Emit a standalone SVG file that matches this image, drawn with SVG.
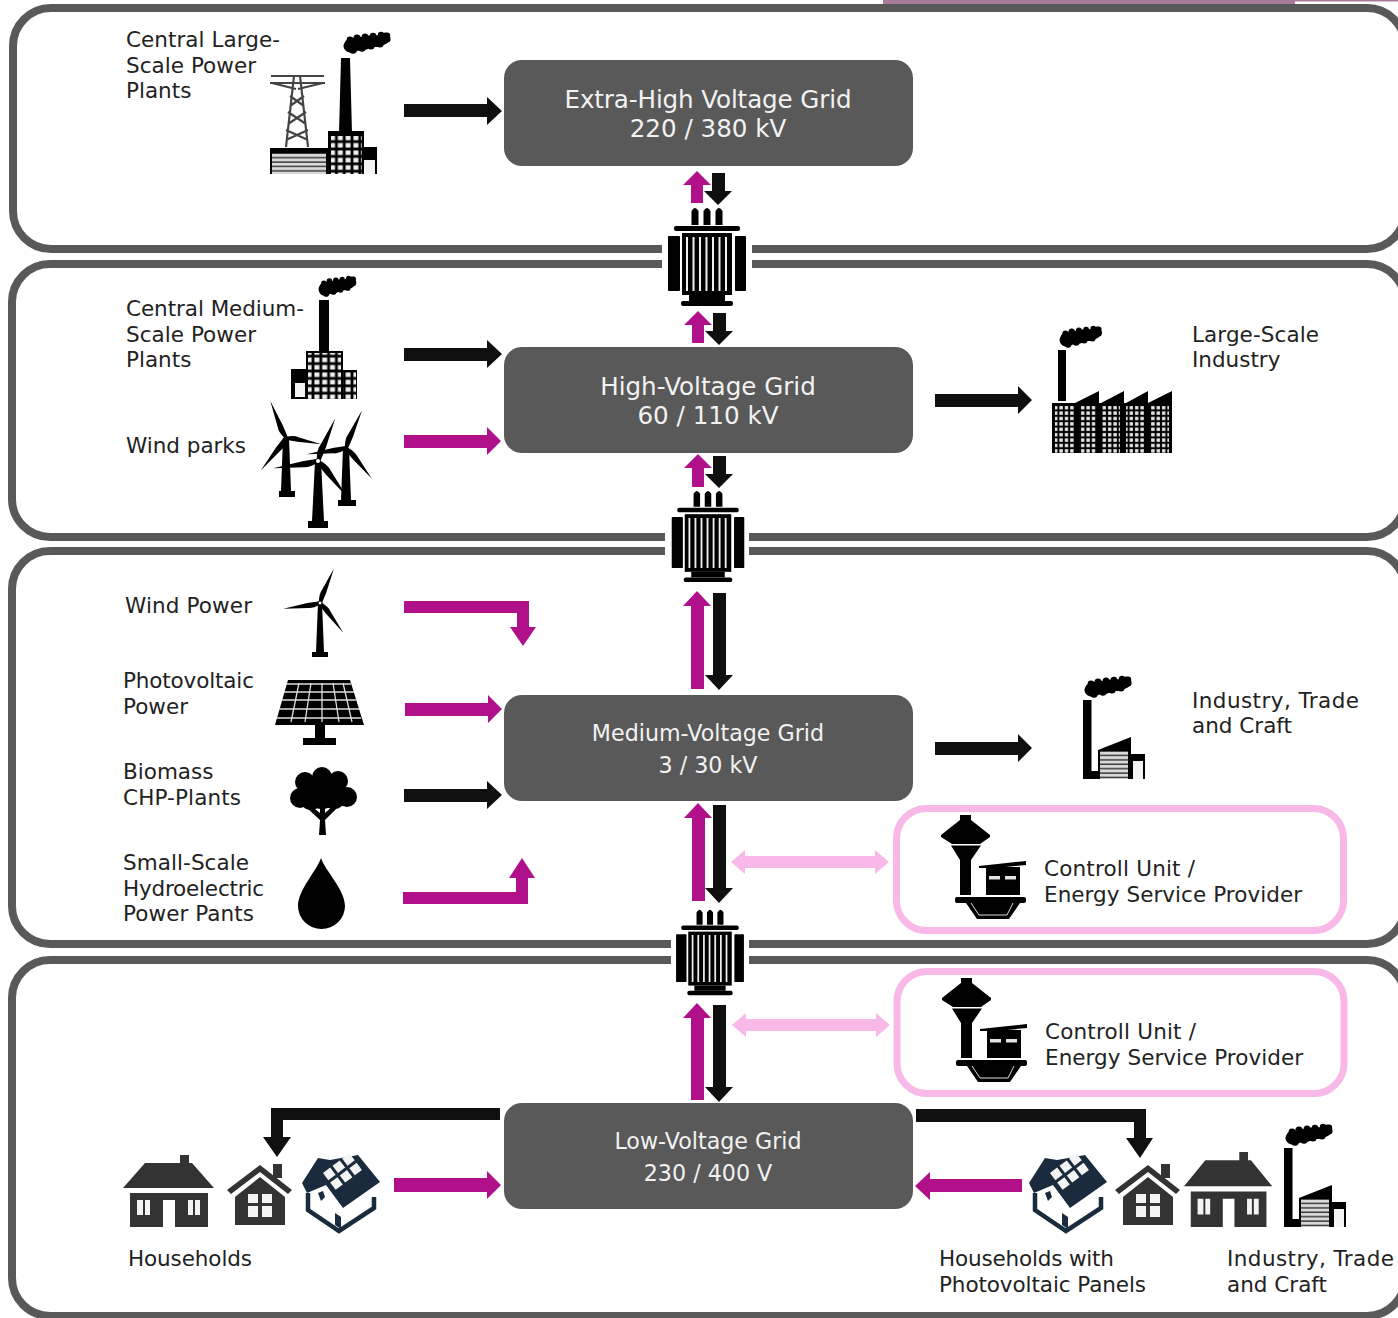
<svg xmlns="http://www.w3.org/2000/svg" width="1398" height="1318" viewBox="0 0 1398 1318">
<style>
text{font-family:"DejaVu Sans","Liberation Sans",sans-serif}
.lbl{font-size:21.5px;fill:#222}
.grid{font-size:24.6px;fill:#f2f2f2;text-anchor:middle}
.grid2{font-size:22.2px;fill:#f2f2f2;text-anchor:middle}
.box{fill:#595959}
.panel{fill:#fff;stroke:#595959;stroke-width:8}
.pink{fill:#fff;stroke:#f9b9e8;stroke-width:7}
.k{fill:#0f0f0f}.m{fill:#b0108a}.p{fill:#f9b9e8}
.b{fill:#000}.w{fill:#f4f4f4}.d{fill:#333}.n{fill:#1a2b3e}
</style>
<defs>
<pattern id="win" width="5.4" height="5.4" patternUnits="userSpaceOnUse"><rect width="5.4" height="5.4" fill="#000"/><rect x="1" y="1" width="3.4" height="3.4" fill="#e4e4e4"/></pattern>
<pattern id="win2" x="1" y="1" width="7.8" height="7.4" patternUnits="userSpaceOnUse"><rect width="7.8" height="7.4" fill="#000"/><rect x="1.4" y="1.4" width="5" height="4.6" fill="#eee"/></pattern>
<pattern id="stripe" width="4" height="4.4" patternUnits="userSpaceOnUse"><rect width="4" height="4.4" fill="#d8d8d8"/><rect y="3" width="4" height="1.4" fill="#333"/></pattern>
<g id="smoke" fill="#000"><path d="M0,12 C1,5 7,6 10,5 C14,2 19,6 23,3 C28,1 32,4 36,1 C41,-1 45,-1 46,1 C47,7 44,11 39,12 C35,15 30,13 26,15 C21,18 16,16 11,19 C5,21 -1,18 0,12Z"/><circle cx="6" cy="7" r="3.4"/><circle cx="13" cy="5" r="3.6"/><circle cx="21" cy="4" r="3.5"/><circle cx="29" cy="3" r="3.3"/><circle cx="37" cy="2" r="3.2"/><circle cx="43" cy="6" r="3.6"/><circle cx="36" cy="11" r="3.6"/><circle cx="27" cy="13" r="3.6"/><circle cx="18" cy="15" r="3.8"/><circle cx="9" cy="17" r="3.8"/><circle cx="3" cy="13" r="3.5"/></g>
<path id="blade" d="M-2,0 Q-7,-13 -5,-20 L0,-60 L3,-20 L3,0Z" fill="#000"/>
<g id="xfmr">
<path d="M-15.5,18V4Q-12,-2 -8.5,4V18ZM-3.5,18V4Q0,-2 3.5,4V18ZM8.5,18V4Q12,-2 15.5,4V18Z" fill="#000"/>
<rect x="-33" y="19" width="66" height="5" rx="2" fill="#000"/>
<rect x="-39" y="29" width="12" height="55" rx="1" fill="#000"/><rect x="28" y="29" width="11" height="55" rx="1" fill="#000"/>
<rect x="-25" y="26" width="50" height="62" fill="#000"/>
<path d="M-20,30V84M-13.500,30V84M-7,30V84M-.5,30V84M6,30V84M12.500,30V84M19,30V84" stroke="#eee" stroke-width="2" fill="none"/>
<rect x="-18" y="88" width="36" height="6" fill="#000"/>
<rect x="-26" y="94" width="52" height="5" rx="2" fill="#000"/>
</g>
<g id="control">
<path d="M19,0H30V5L49,20V22L39,29H11L0,22V20L19,5Z" fill="#000"/>
<path d="M10,30.500H40L30,45V80H19V45Z" fill="#000"/>
<path d="M38,51L85,46V50L45,54V53H38Z" fill="#000"/>
<rect x="45" y="52" width="34" height="28" fill="#000"/>
<rect x="48" y="61" width="11" height="3.5" fill="#e4e4e4"/><rect x="64" y="61" width="11" height="3.5" fill="#e4e4e4"/>
<rect x="14" y="82" width="71" height="6" rx="2" fill="#000"/>
<path d="M25,88L36,104H68L79,88Z" fill="#000"/>
<path d="M30,88L38,100H66L72,88" fill="none" stroke="#ddd" stroke-width="1"/>
</g>
<g id="houseA">
<path d="M0,33L22,8H69L91,33Z" class="d"/><rect x="57" y="0" width="9" height="10" class="d"/>
<path d="M7,38H85V72H52V45H40V72H7Z" class="d"/>
<path d="M14,45H20V60H14ZM22,45H27V60H22ZM65,45H70V60H65ZM72,45H77V60H72Z" class="w"/>
</g>
<g id="houseB">
<path d="M0,26L33,1L65,26L61,30L33,8L4,30Z" class="d"/><rect x="46" y="0" width="9" height="14" class="d"/>
<path d="M33,13L58,33V61H8V33Z" class="d"/>
<path d="M21,30H31V39H21ZM35,30H45V39H35ZM21,42H31V53H21ZM35,42H45V53H35Z" class="w"/>
</g>
<g id="houseC">
<path d="M1,28L17,3L29,5L57,0L79,27L42,53L25,30L6,38Z" class="n"/>
<g class="w" transform="translate(32,28) rotate(-37)"><rect x="-2" y="-14" width="9" height="9"/><rect x="10" y="-14" width="9" height="9"/><rect x="22" y="-14" width="9" height="9"/><rect x="-2" y="-2" width="9" height="9"/><rect x="10" y="-2" width="9" height="9"/><rect x="22" y="-2" width="9" height="9"/></g>
<path d="M7,38V55L38,76L73,53V42" fill="none" stroke="#1a2b3e" stroke-width="4.5"/>
<path d="M34,58L40,62V74L34,70ZM17,38L22,36L24,42L20,46Z" class="n"/>
</g>
<g id="factorySmall">
<use href="#smoke" transform="translate(2,0)"/>
<rect x="0" y="23" width="8.500" height="79" class="b"/>
<rect x="0" y="94" width="16" height="8" class="b"/>
<path d="M15,73L48,60V102H15Z" class="b"/><rect x="17" y="74" width="28" height="28" fill="url(#stripe)"/>
<path d="M48,77H62V102H48Z" class="b"/><rect x="50" y="84" width="10" height="18" class="w"/>
</g>
</defs>

<rect x="883" y="0" width="412" height="5" fill="#a87a9c"/>
<rect x="1295" y="0" width="103" height="1.500" fill="#a87a9c"/>

<g id="panels">
<rect class="panel" x="13" y="8" width="1392" height="241" rx="38"/>
<rect class="panel" x="12" y="264" width="1393" height="273" rx="38"/>
<rect class="panel" x="12" y="551" width="1393" height="393" rx="38"/>
<rect class="panel" x="12" y="960" width="1393" height="356" rx="38"/>
<rect x="662" y="240" width="90" height="32" fill="#fff"/>
<rect x="665" y="528" width="84" height="32" fill="#fff"/>
<rect x="671" y="936" width="78" height="32" fill="#fff"/>
</g>

<g id="connectors">
<path class="k" d="M404,104H487V97L502,111L487,125V117H404Z"/>
<path class="k" d="M404,348H487V340L502,354L487,368V361H404Z"/>
<path class="m" d="M404,435H487V427L501,441L487,455V448H404Z"/>
<path class="k" d="M935,394H1018V386L1032,400L1018,414V407H935Z"/>
<path class="m" d="M405,703H488V695L502,709L488,723V716H405Z"/>
<path class="k" d="M404,789H487V781L502,795L487,809V802H404Z"/>
<path class="k" d="M935,742H1018V734L1032,748L1018,762V755H935Z"/>
<path class="m" d="M404,601H529V627H536L523,646L510,627H517V613H404Z"/>
<path class="m" d="M403,904H528V878H535L522,858L509,878H516V892H403Z"/>
<path class="m" d="M697,171L711,185H703V203H691V185H683Z"/>
<path class="k" d="M712,173H725V191H732L718,205L704,191H712Z"/>
<path class="m" d="M698,311L712,325H704V343H692V325H684Z"/>
<path class="k" d="M713,313H726V331H733L719,345L705,331H713Z"/>
<path class="m" d="M698,454L712,468H704V487H692V468H684Z"/>
<path class="k" d="M713,456H726V474H733L719,488L705,474H713Z"/>
<path class="m" d="M697,591L711,606H704V689H691V606H683Z"/>
<path class="k" d="M713,593H726V675H733L719,690L705,675H713Z"/>
<path class="m" d="M698,803L712,818H705V901H692V818H684Z"/>
<path class="k" d="M713,805H726V888H733L719,903L705,888H713Z"/>
<path class="m" d="M697,1003L711,1018H704V1100H691V1018H683Z"/>
<path class="k" d="M713,1005H726V1087H733L719,1102L705,1087H713Z"/>
<path class="p" d="M731,862L745,850V856H875V850L889,862L875,874V868H745V874Z"/>
<path class="p" d="M732,1025L746,1013V1019H876V1013L890,1025L876,1037V1031H746V1037Z"/>
<path class="k" d="M500,1108H271V1137H263L277,1157L291,1137H283V1120H500Z"/>
<path class="m" d="M394,1178H487V1171L501,1185L487,1199V1192H394Z"/>
<path class="k" d="M916,1109H1146V1138H1153L1140,1158L1126,1138H1134V1122H916Z"/>
<path class="m" d="M1022,1179H930V1172L915,1186L930,1200V1192H1022Z"/>
</g>

<g id="ehv-grid"><rect class="box" x="504" y="60" width="409" height="106" rx="18"/><text class="grid" x="708" y="108" textLength="287">Extra-High Voltage Grid</text><text class="grid" x="708" y="137">220 / 380 kV</text></g>
<g id="hv-grid"><rect class="box" x="504" y="347" width="409" height="106" rx="18"/><text class="grid" x="708" y="395">High-Voltage Grid</text><text class="grid" x="708" y="424">60 / 110 kV</text></g>
<g id="mv-grid"><rect class="box" x="504" y="695" width="409" height="106" rx="18"/><text class="grid2" x="708" y="741">Medium-Voltage Grid</text><text class="grid2" x="708" y="773">3 / 30 kV</text></g>
<g id="lv-grid"><rect class="box" x="504" y="1103" width="409" height="106" rx="18"/><text class="grid2" x="708" y="1149">Low-Voltage Grid</text><text class="grid2" x="708" y="1181">230 / 400 V</text></g>

<g id="transformer-1"><use href="#xfmr" transform="translate(707,207)"/></g>
<g id="transformer-2"><use href="#xfmr" transform="translate(708,490) scale(.93)"/></g>
<g id="transformer-3"><use href="#xfmr" transform="translate(710,909) scale(.87)"/></g>

<g id="central-large">
<text class="lbl" x="126" y="47" textLength="154">Central Large-</text><text class="lbl" x="126" y="73" textLength="130">Scale Power</text><text class="lbl" x="126" y="98">Plants</text>
<use href="#smoke" transform="translate(344,33)"/>
<path d="M339,133L341,58H350L352,133Z" class="b"/>
<g fill="none" stroke="#444" stroke-width="2.2"><path d="M271,76H324M270,83H325M272,83L296,89M323,83L298,89M294,76L286,147M300,76L308,147M290,96L304,106M304,96L290,106M288,112L306,124M306,112L288,124M286,130L308,140M308,130L286,140"/></g>
<path d="M270,148H328V174H270Z" class="b"/><rect x="272" y="153" width="54" height="21" fill="url(#stripe)"/>
<rect x="328" y="131" width="36" height="43" class="b"/><rect x="331" y="136" width="31" height="38" fill="url(#win2)"/>
<path d="M363,147H377V174H363Z" class="b"/><rect x="364" y="160" width="11" height="14" class="w"/>
</g>

<g id="central-medium">
<text class="lbl" x="126" y="316" textLength="178">Central Medium-</text><text class="lbl" x="126" y="342" textLength="130">Scale Power</text><text class="lbl" x="126" y="367">Plants</text>
<use href="#smoke" transform="translate(319,277) scale(.8,.95)"/>
<rect x="319" y="300" width="10" height="51" class="b"/>
<rect x="306" y="351" width="37" height="48" class="b"/><rect x="308" y="353" width="33" height="46" fill="url(#win2)"/>
<rect x="343" y="370" width="14" height="29" class="b"/><rect x="343" y="372" width="13" height="27" fill="url(#win2)"/>
<path d="M291,369H306V399H291Z" class="b"/><rect x="295" y="383" width="10" height="14" class="w"/>
</g>

<g id="wind-parks">
<text class="lbl" x="126" y="453" textLength="120">Wind parks</text>
<g transform="translate(286,438)"><path d="M-3,0H3L5,53H-5Z" class="b"/><rect x="-7" y="53" width="16" height="6" class="b"/><use href="#blade" transform="rotate(-23) scale(.67)"/><use href="#blade" transform="rotate(100) scale(.6)"/><use href="#blade" transform="rotate(-142) scale(.68)"/></g>
<g transform="translate(346,448)"><path d="M-3,0H3L5,52H-5Z" class="b"/><rect x="-8" y="52" width="18" height="6" class="b"/><use href="#blade" transform="rotate(23) scale(.68)"/><use href="#blade" transform="rotate(140) scale(.67)"/><use href="#blade" transform="rotate(-99) scale(.66)"/></g>
<g transform="translate(318,461)"><path d="M-3,0H3L6,60H-6Z" class="b"/><rect x="-10" y="60" width="20" height="7" class="b"/><use href="#blade" transform="rotate(22) scale(.77)"/><use href="#blade" transform="rotate(-99) scale(.76)"/><use href="#blade" transform="rotate(141) scale(.77)"/><circle r="2" fill="#fff"/></g>
</g>

<g id="large-industry">
<text class="lbl" x="1192" y="342" textLength="127">Large-Scale</text><text class="lbl" x="1192" y="367">Industry</text>
<use href="#smoke" transform="translate(1060,327) scale(.9,1)"/>
<rect x="1058" y="350" width="8" height="51" class="b"/>
<path d="M1052,403H1075L1099,391V403H1101L1124,391V403H1126L1148,391V403L1172,391V453H1052Z" class="b"/>
<rect x="1055" y="406" width="19" height="47" fill="url(#win)"/>
<rect x="1079" y="406" width="18" height="47" fill="url(#win)"/>
<rect x="1102" y="406" width="18" height="47" fill="url(#win)"/>
<rect x="1126" y="406" width="19" height="47" fill="url(#win)"/>
<rect x="1151" y="406" width="18" height="47" fill="url(#win)"/>
</g>

<g id="wind-power">
<text class="lbl" x="125" y="613" textLength="127">Wind Power</text>
<g transform="translate(320,603)"><path d="M-2,0H2L4,49H-4Z" class="b"/><rect x="-8" y="49" width="16" height="5" class="b"/><use href="#blade" transform="rotate(22) scale(.62)"/><use href="#blade" transform="rotate(142) scale(.63)"/><use href="#blade" transform="rotate(-99) scale(.62)"/><circle r="2" fill="#fff" stroke="#000"/></g>
</g>

<g id="photovoltaic">
<text class="lbl" x="123" y="688" textLength="131">Photovoltaic</text><text class="lbl" x="123" y="714">Power</text>
<path d="M288,680H350L364,725H275Z" class="b"/>
<path d="M299,683L291,722M311,683L305,722M322,683V722M333,683L339,722M343,683L352,722M287,684H351M284,692H354M282,700H356M279,709H359M277,718H361" stroke="#ddd" stroke-width="1.300" fill="none"/>
<rect x="315" y="725" width="10" height="13" class="b"/><rect x="303" y="738" width="33" height="7" class="b"/>
</g>

<g id="biomass">
<text class="lbl" x="123" y="779">Biomass</text><text class="lbl" x="123" y="805" textLength="118">CHP-Plants</text>
<g class="b"><circle cx="322" cy="777" r="10"/><circle cx="338" cy="781" r="10"/><circle cx="305" cy="782" r="10"/><circle cx="300" cy="798" r="10"/><circle cx="347" cy="797" r="10"/><circle cx="322" cy="792" r="17"/><circle cx="334" cy="797" r="12"/><circle cx="311" cy="799" r="11"/>
<path d="M319,835L320,820L307,808L311,806L320,813L320,803H325V813L334,805L337,808L325,820L326,835Z"/></g>
</g>

<g id="hydro">
<text class="lbl" x="123" y="870" textLength="126">Small-Scale</text><text class="lbl" x="123" y="896" textLength="141">Hydroelectric</text><text class="lbl" x="123" y="921" textLength="131">Power Pants</text>
<path d="M321,858C316,872 298,890 298,906A23.5,23 0 0 0 345,906C345,890 326,872 321,858Z" class="b"/>
</g>

<g id="industry-trade">
<text class="lbl" x="1192" y="708" textLength="167">Industry, Trade</text><text class="lbl" x="1192" y="733" textLength="100">and Craft</text>
<use href="#factorySmall" transform="translate(1083,677)"/>
</g>

<g id="control-unit-1">
<rect class="pink" x="896.500" y="808.500" width="447" height="122" rx="30"/>
<use href="#control" transform="translate(941,815)"/>
<text class="lbl" x="1044" y="876" textLength="151">Controll Unit /</text><text class="lbl" x="1044" y="902" textLength="258">Energy Service Provider</text>
</g>
<g id="control-unit-2">
<rect class="pink" x="897" y="971.500" width="447" height="122" rx="30"/>
<use href="#control" transform="translate(942,978)"/>
<text class="lbl" x="1045" y="1039" textLength="151">Controll Unit /</text><text class="lbl" x="1045" y="1065" textLength="258">Energy Service Provider</text>
</g>

<g id="households">
<use href="#houseA" transform="translate(123,1155)"/><use href="#houseB" transform="translate(227,1164)"/><use href="#houseC" transform="translate(301,1155)"/>
<text class="lbl" x="128" y="1266" textLength="124">Households</text>
</g>
<g id="households-pv">
<use href="#houseC" transform="translate(1028,1155)"/><use href="#houseB" transform="translate(1115,1164)"/>
<text class="lbl" x="939" y="1266" textLength="175">Households with</text><text class="lbl" x="939" y="1292" textLength="207">Photovoltaic Panels</text>
</g>
<g id="industry-lv">
<use href="#houseA" transform="translate(1184,1152) scale(.97,1.04)"/>
<use href="#factorySmall" transform="translate(1284,1125)"/>
<text class="lbl" x="1227" y="1266" textLength="167">Industry, Trade</text><text class="lbl" x="1227" y="1292" textLength="100">and Craft</text>
</g>
</svg>
